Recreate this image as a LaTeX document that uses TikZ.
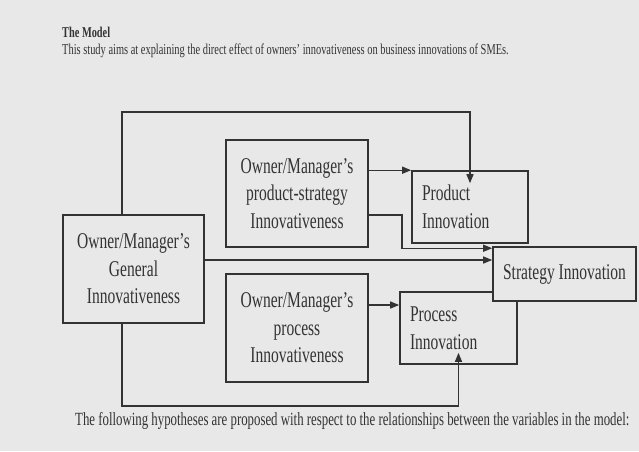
\documentclass[tikz,border=0pt]{standalone}
\usepackage{fontspec}
\setmainfont{Liberation Serif}[FakeStretch=0.69]
\usetikzlibrary{arrows.meta}
\definecolor{bgGray}{HTML}{E8E8E8}
\definecolor{inkGray}{HTML}{333333}

\begin{document}
\begin{tikzpicture}[x=1pt,y=-1pt,
                      box/.style={draw=inkGray,line width=1.6pt,fill=bgGray,text=inkGray,
                                  inner sep=0pt,align=center,
                                  font=\fontsize{22.5}{27.5}\selectfont},
                      link/.style={draw=inkGray,line width=1.4pt,
                                   -{Triangle[length=9pt,width=7pt]}},
                      prose/.style={anchor=base west,text=inkGray,inner sep=0pt}]

   \fill[bgGray] (0,0) rectangle (639,451);
   \useasboundingbox (0,0) rectangle (639,451);

   \node[prose,font=\bfseries\fontsize{15}{18}\selectfont] (title) at (62,37) {The Model};
   \node[prose,font=\fontsize{15.1}{18}\selectfont] (aim) at (62,54)
        {This study aims at explaining the direct effect of owners’ innovativeness on business innovations of SMEs.};

   \node[box,minimum width=141pt,minimum height=108pt] (gen) at (133.5,269)
        {Owner/Manager’s\\General\\Innovativeness};
   \node[box,minimum width=142pt,minimum height=107pt] (ps) at (297,193.5)
        {Owner/Manager’s\\product-strategy\\Innovativeness};
   \node[box,minimum width=142pt,minimum height=108pt] (pst) at (297,328)
        {Owner/Manager’s\\process\\Innovativeness};
   \node[box,align=left,inner xsep=10pt,text width=96pt,minimum height=72pt] (prod) at (470,207)
        {Product\\Innovation};
   \node[box,align=left,inner xsep=10pt,text width=97pt,minimum height=72pt] (proc) at (458.5,328)
        {Process\\Innovation};
   \node[box,minimum width=143pt,minimum height=54pt] (strat) at (564.5,274)
        {Strategy Innovation};

   \coordinate (toprail) at (122,112);
   \coordinate (botrail) at (122,406);

   \draw[link] (gen.north -| toprail) -- (toprail) -| ([yshift=-13pt]prod.north);
   \draw[link] (ps.east |- prod.north) -- (prod.north west);
   \draw[link] ([yshift=-21.5pt]ps.east) -- ++(33,0) |- ([yshift=-2pt]strat.north west);
   \draw[link] ([yshift=9pt]gen.east) -- ([yshift=9pt]gen.east -| strat.west);
   \draw[link] ([yshift=23pt]pst.east) -- ([yshift=23pt]proc.west);
   \draw[link] (gen.south -| botrail) -- (botrail) -| ([yshift=12pt]proc.south);

   \node[prose,font=\fontsize{18.6}{21}\selectfont] (hyp) at (75,425)
        {The following hypotheses are proposed with respect to the relationships between the variables in the model:};
\end{tikzpicture}
\end{document}
